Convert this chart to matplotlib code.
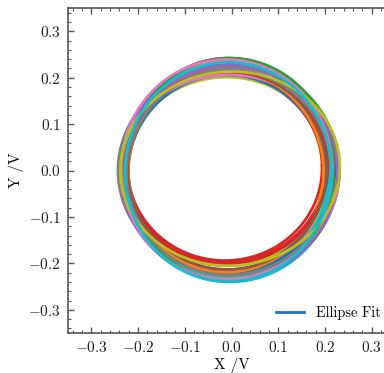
import numpy as np
import matplotlib
matplotlib.use("Agg")
import matplotlib.pyplot as plt

plt.rcParams.update({
    "font.family": "serif",
    "font.serif": ["cmr10"],
    "mathtext.fontset": "cm",
    "axes.formatter.use_mathtext": True,
    "font.size": 11,
    "axes.unicode_minus": True,
})

# ellipse fit parameters (center x, center y, semi-axis x, semi-axis y, rotation deg)
cx = [-0.005, -0.013, -0.006, -0.014, -0.007, -0.002, -0.010, -0.007, -0.009, -0.004,
      -0.011, -0.008, -0.001, -0.012, -0.009, -0.006, -0.004, -0.010, -0.003, -0.008,
      -0.008, -0.012, -0.004, -0.011, -0.005, -0.009, -0.010, -0.005, -0.003, -0.007]
cy = [0.004, 0.000, -0.003, 0.006, 0.002, -0.005, 0.003, 0.001, -0.002, -0.004,
      -0.004, 0.003, 0.000, 0.007, -0.001, 0.002, -0.006, 0.004, 0.001, -0.006,
      0.005, -0.002, 0.003, 0.006, -0.004, 0.001, 0.002, -0.005, 0.004, -0.003]
ax_ = [0.226, 0.212, 0.230, 0.208, 0.224, 0.233, 0.215, 0.236, 0.218, 0.228,
       0.210, 0.222, 0.231, 0.214, 0.227, 0.219, 0.234, 0.211, 0.225, 0.216,
       0.229, 0.209, 0.223, 0.217, 0.232, 0.213, 0.226, 0.220, 0.235, 0.221]
by_ = [0.236, 0.205, 0.230, 0.200, 0.236, 0.215, 0.239, 0.222, 0.203, 0.236,
       0.210, 0.226, 0.232, 0.204, 0.219, 0.240, 0.212, 0.228, 0.234, 0.222,
       0.224, 0.217, 0.239, 0.207, 0.231, 0.214, 0.237, 0.221, 0.209, 0.236]
ang = [3, -2, 4, 1, -3, 4, -1, 2, -3, 2,
       0, -2, 3, -4, 4, 1, -3, 2, -1, 3,
       -4, 2, -2, 3, 1, -2, 3, -3, 4, -1]

fig = plt.figure(figsize=(3.84, 3.73), dpi=100)
ax = fig.add_axes([68/384, 40/373, 327/384, 325/373])

t = np.linspace(0, 2*np.pi, 300)
for i in range(len(cx)):
    th = np.deg2rad(ang[i])
    x = cx[i] + ax_[i]*np.cos(t)*np.cos(th) - by_[i]*np.sin(t)*np.sin(th)
    y = cy[i] + ax_[i]*np.cos(t)*np.sin(th) + by_[i]*np.sin(t)*np.cos(th)
    ax.plot(x, y, lw=2.0, label="Ellipse Fit" if i == 0 else "_nolegend_")

ax.set_xlim(-0.35, 0.35)
ax.set_ylim(-0.35, 0.35)
ax.set_xticks([-0.3, -0.2, -0.1, 0.0, 0.1, 0.2, 0.3])
ax.set_yticks([-0.3, -0.2, -0.1, 0.0, 0.1, 0.2, 0.3])
ax.minorticks_on()
ax.tick_params(which="both", direction="in", top=True, right=True, colors="#555555",
               labelcolor="#222222")
ax.tick_params(which="major", length=4, width=1.0, pad=5)
ax.tick_params(which="minor", length=2, width=0.8)
for s in ax.spines.values():
    s.set_color("#555555")
    s.set_linewidth(1.2)
ax.set_xlabel("X /V", labelpad=2)
ax.set_ylabel("Y /V", labelpad=3)
ax.legend(loc="lower right", frameon=False, bbox_to_anchor=(0.995, 0.0),
          fontsize=10.3, handlelength=2.0)

fig.savefig("out.png", dpi=100)
